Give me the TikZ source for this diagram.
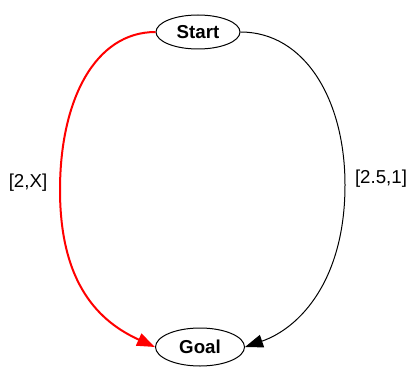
\documentclass[tikz,border=0pt]{standalone}
\usepackage{fontspec}
\setmainfont{Liberation Sans}
\usetikzlibrary{shapes.geometric,arrows.meta}
\begin{document}
\begin{tikzpicture}[x=1pt,y=-1pt,
  statenode/.style={draw,ellipse,inner sep=0pt,font=\fontsize{18.7}{20}\selectfont\bfseries,line width=1pt},
  lbl/.style={font=\fontsize{18.7}{20}\selectfont,inner sep=0pt},
  tip/.style={-{Triangle[length=18pt 0 0,width=13pt 0 0]}}]
\useasboundingbox (0,0) rectangle (409,369);
\node[statenode,minimum width=84pt,minimum height=34pt] (start) at (198,32) {Start};
\node[statenode,minimum width=89pt,minimum height=38pt] (goal) at (200,347) {Goal};
\node[lbl] (l1) at (28,183) {[2,X]};
\node[lbl] (l2) at (381,179) {[2.5,1]};
\draw[tip,red,line width=2pt] (start.west) .. controls (95,32) and (60,100) .. (60,190) .. controls (60,285) and (100,322) .. (goal.west);
\draw[tip,black,line width=1pt] (start.east) .. controls (305,32) and (345,100) .. (345,185) .. controls (345,280) and (300,328) .. (goal.east);
\end{tikzpicture}
\end{document}
